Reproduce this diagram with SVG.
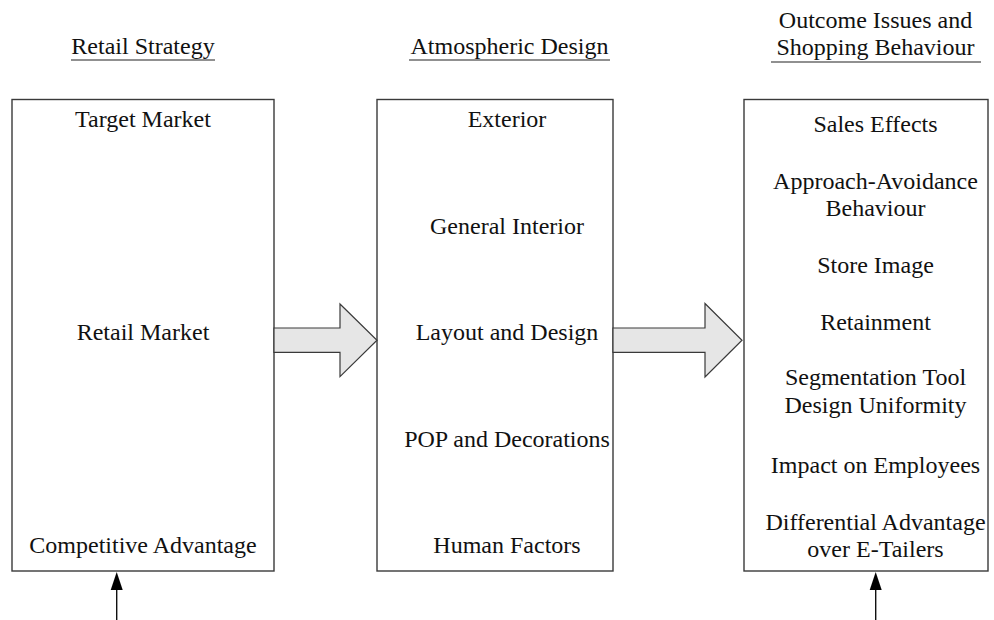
<svg xmlns="http://www.w3.org/2000/svg" width="994" height="620" viewBox="0 0 994 620">
  <style>
    text { font-family: "Liberation Serif", "Times New Roman", serif; font-size: 24px; fill: #111; text-anchor: middle; }
    .box { fill: #fff; stroke: #3a3a3a; stroke-width: 1.4; }
    .block { fill: #e6e6e6; stroke: #3a3a3a; stroke-width: 1.2; stroke-linejoin: miter; }
    .rule { stroke: #222; stroke-width: 1.2; }
    .feed { stroke: #111; stroke-width: 1.4; fill: none; }
    .head { fill: #000; }
  </style>
  <defs>
    <!-- upward arrowhead, tip at origin -->
    <path id="up-head" class="head" d="M0 0 L6 18 L-6 18 Z"/>
  </defs>

  <!-- column headings -->
  <g id="heading-strategy">
    <text x="143" y="54">Retail Strategy</text>
    <line class="rule" x1="71" y1="60" x2="215" y2="60"/>
  </g>
  <g id="heading-atmospherics">
    <text x="509.5" y="54">Atmospheric Design</text>
    <line class="rule" x1="409" y1="60" x2="610" y2="60"/>
  </g>
  <g id="heading-outcomes">
    <text x="875.5" y="28">Outcome Issues and</text>
    <text x="875.5" y="55">Shopping Behaviour</text>
    <line class="rule" x1="771" y1="62" x2="981" y2="62"/>
  </g>

  <!-- Retail Strategy box -->
  <g id="node-strategy">
    <rect class="box" x="12" y="99.5" width="262" height="471.5"/>
    <text x="143" y="127">Target Market</text>
    <text x="143" y="340">Retail Market</text>
    <text x="143" y="553">Competitive Advantage</text>
  </g>

  <!-- Atmospheric Design box -->
  <g id="node-atmospherics">
    <rect class="box" x="377" y="99.5" width="236" height="471.5"/>
    <text x="507" y="127">Exterior</text>
    <text x="507" y="234">General Interior</text>
    <text x="507" y="340">Layout and Design</text>
    <text x="507" y="447">POP and Decorations</text>
    <text x="507" y="553">Human Factors</text>
  </g>

  <!-- Outcomes box -->
  <g id="node-outcomes">
    <rect class="box" x="744" y="99.5" width="244" height="471.5"/>
    <text x="875.5" y="132">Sales Effects</text>
    <text x="875.5" y="189">Approach-Avoidance</text>
    <text x="875.5" y="216">Behaviour</text>
    <text x="875.5" y="273">Store Image</text>
    <text x="875.5" y="330">Retainment</text>
    <text x="875.5" y="385">Segmentation Tool</text>
    <text x="875.5" y="413">Design Uniformity</text>
    <text x="875.5" y="473">Impact on Employees</text>
    <text x="875.5" y="530">Differential Advantage</text>
    <text x="875.5" y="557">over E-Tailers</text>
  </g>

  <!-- connectors -->
  <g id="connectors">
    <polygon class="block" points="274,328 340,328 340,304 377,340.3 340,376.6 340,352.3 274,352.3"/>
    <polygon class="block" points="613,328 705,328 705,303.5 742,340.3 705,377 705,352.3 613,352.3"/>
    <line class="feed" x1="116.7" y1="620" x2="116.7" y2="588"/>
    <use href="#up-head" x="116.7" y="572"/>
    <line class="feed" x1="875.7" y1="620" x2="875.7" y2="588"/>
    <use href="#up-head" x="875.7" y="572"/>
  </g>
</svg>
